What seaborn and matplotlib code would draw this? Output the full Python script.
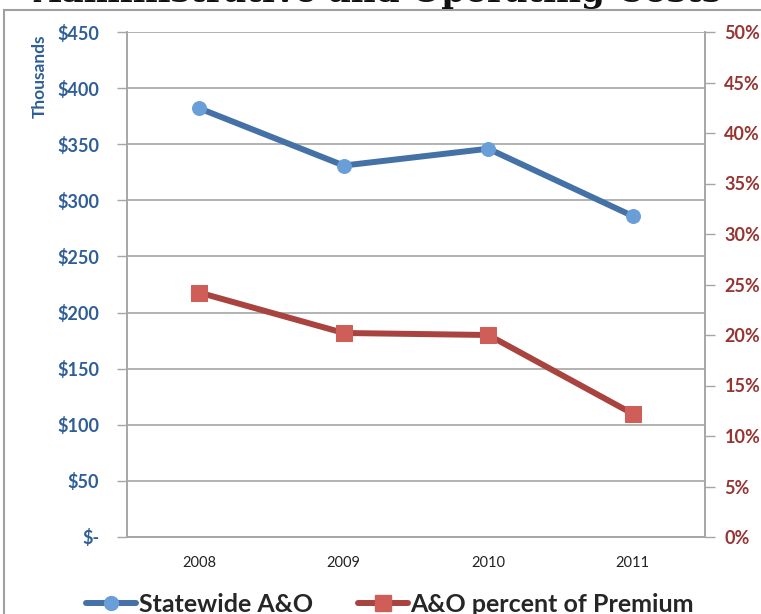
import matplotlib
matplotlib.use("Agg")
import matplotlib.pyplot as plt
import matplotlib.patches as patches
from matplotlib.ticker import FixedLocator
from matplotlib.lines import Line2D
import seaborn as sns
import pandas as pd

# Data
years = ["2008", "2009", "2010", "2011"]
statewide_ao = [382, 331, 346, 286]          # thousands of dollars
ao_pct_premium = [24.2, 20.2, 20.0, 12.2]    # percent

left_ticks = list(range(0, 451, 50))
left_labels = ["$-"] + [f"${v}" for v in left_ticks[1:]]
right_ticks = list(range(0, 51, 5))
right_labels = [f"{v}%" for v in right_ticks]

BLUE_TXT = "#2F5E96"
RED_TXT = "#963532"
BLUE_LINE = "#4471A6"
BLUE_MARK = "#6A9ED9"
RED_LINE = "#A8433F"
RED_MARK = "#CF5E59"
GRID = "#A6A6A6"

sns.set_style("white")
plt.rcParams["font.family"] = ["Lato", "DejaVu Sans"]

df = pd.DataFrame({"year": years, "ao": statewide_ao, "pct": ao_pct_premium})

fig = plt.figure(figsize=(7.61, 6.14), dpi=100)
ax = fig.add_axes([127 / 761, 77 / 614, 578 / 761, 505 / 614])
ax2 = ax.twinx()

sns.lineplot(data=df, x="year", y="ao", ax=ax, color=BLUE_LINE, lw=4.3,
             marker="o", markersize=10, markerfacecolor=BLUE_MARK,
             markeredgecolor=BLUE_MARK, sort=False)
sns.lineplot(data=df, x="year", y="pct", ax=ax2, color=RED_LINE, lw=4.3,
             marker="s", markersize=12, markerfacecolor=RED_MARK,
             markeredgecolor=RED_MARK, sort=False)

ax.set_xlim(-0.5, len(years) - 0.5)
ax.set_ylim(0, 450)
ax2.set_ylim(0, 50)
ax.set_yticks(left_ticks, labels=left_labels, fontweight="bold", fontsize=13,
              color=BLUE_TXT)
ax2.set_yticks(right_ticks, labels=right_labels, fontweight="bold", fontsize=13,
               color=RED_TXT)

# category boundaries as ticks, labels centred
ax.xaxis.set_major_locator(FixedLocator([i - 0.5 for i in range(len(years) + 1)]))
ax.xaxis.set_minor_locator(FixedLocator(range(len(years))))
ax.set_xticklabels([])
ax.set_xticklabels(years, minor=True)
ax.tick_params(axis="x", which="major", length=6, width=1, color=GRID, direction="out")
ax.tick_params(axis="x", which="minor", length=0, pad=14, labelsize=10.5, labelcolor="#222222")

ax.tick_params(axis="y", length=7, width=1, color=GRID, direction="out", pad=13)
ax2.tick_params(axis="y", length=7, width=1, color=GRID, direction="out", pad=7)

ax.grid(axis="y", color=GRID, lw=1.2)
ax.grid(axis="x", visible=False)
ax.set_xlabel("")
ax.set_ylabel("")
ax2.set_ylabel("")
for a in (ax, ax2):
    a.spines["top"].set_visible(False)
    for s in ("left", "right", "bottom"):
        a.spines[s].set_color(GRID)
        a.spines[s].set_linewidth(1.2)

fig.text(40 / 761, 1 - 76 / 614, "Thousands", rotation=90, ha="center", va="center",
         color=BLUE_TXT, fontsize=12.5, fontweight="bold")

# chart frame and clipped title
fig.add_artist(patches.Rectangle((4 / 761, -0.1), 1.0, 1 - 10 / 614 + 0.1,
                                 transform=fig.transFigure, fill=False,
                                 edgecolor="#A0A0A0", lw=1.5))
fig.text(377 / 761, 1 - 9 / 614, "Administrative and Operating Costs", ha="center",
         va="bottom", fontsize=24.7, fontweight="bold", family=["DejaVu Serif"],
         color="#111111")

handles = [
    Line2D([], [], color=BLUE_LINE, lw=4.3, marker="o", markersize=10,
           markerfacecolor=BLUE_MARK, markeredgecolor=BLUE_MARK),
    Line2D([], [], color=RED_LINE, lw=4.3, marker="s", markersize=12,
           markerfacecolor=RED_MARK, markeredgecolor=RED_MARK),
]
fig.legend(handles, ["Statewide A&O", "A&O percent of Premium"], ncol=2,
           loc="center", bbox_to_anchor=(390 / 761, 1 - 604 / 614), frameon=False,
           prop={"weight": "bold", "size": 18}, handlelength=2.0, handletextpad=0.1,
           columnspacing=1.8, borderpad=0)

fig.savefig("out.png", dpi=100)
